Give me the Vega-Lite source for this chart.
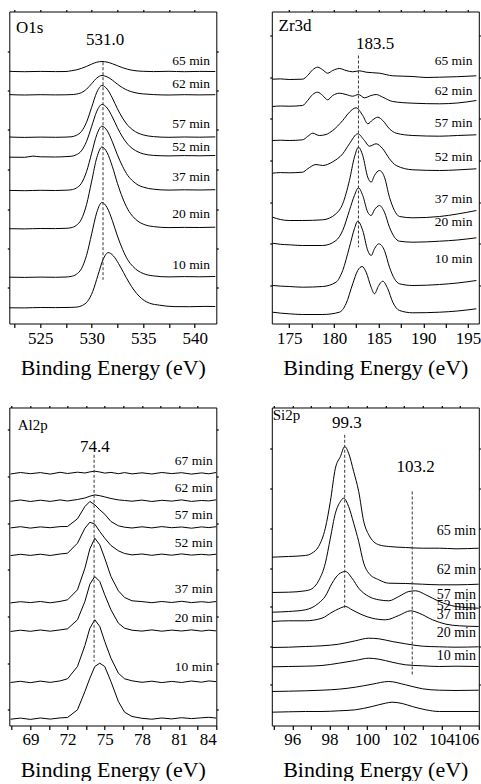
{
"$schema": "https://vega.github.io/schema/vega-lite/v6.json",
"background": "white",
"padding": {"left": 6.3, "top": 8.5, "right": 0, "bottom": 0},
"config": {
  "view": {"stroke": null},
  "font": "Liberation Serif, Times New Roman, serif",
  "axis": {"grid": false, "domainColor": "black", "tickColor": "black", "labelColor": "black", "titleColor": "black",
    "labelFont": "Liberation Serif, Times New Roman, serif", "titleFont": "Liberation Serif, Times New Roman, serif", "labelFontSize": 17, "titleFontSize": 22,
    "titleFontWeight": "normal", "tickSize": 2, "labelPadding": 2.5, "titlePadding": 11.5, "labelOverlap": false,
    "domainWidth": 1, "tickWidth": 1.2},
  "text": {"font": "Liberation Serif, Times New Roman, serif", "color": "black"}
},
"datasets": {
"o": [
{"c":"65","x":522,"y":252.2},{"c":"65","x":523.5,"y":251.8},{"c":"65","x":525,"y":252.1},{"c":"65","x":526.5,"y":251.9},{"c":"65","x":527.5,"y":252.0},{"c":"65","x":528,"y":252.7},{"c":"65","x":528.5,"y":253.6},{"c":"65","x":529,"y":255.1},{"c":"65","x":529.5,"y":257.1},{"c":"65","x":530,"y":259.4},{"c":"65","x":530.5,"y":261.3},{"c":"65","x":531,"y":262.0},{"c":"65","x":531.5,"y":261.4},{"c":"65","x":532,"y":259.8},{"c":"65","x":532.5,"y":257.8},{"c":"65","x":533,"y":255.8},{"c":"65","x":533.5,"y":254.2},{"c":"65","x":534,"y":253.1},{"c":"65","x":534.5,"y":252.5},{"c":"65","x":535,"y":252.2},{"c":"65","x":536,"y":251.9},{"c":"65","x":537.5,"y":252.2},{"c":"65","x":539,"y":251.8},{"c":"65","x":540.5,"y":252.1},{"c":"65","x":542,"y":252.0},
{"c":"62","x":522,"y":228.9},{"c":"62","x":523.5,"y":228.5},{"c":"62","x":525,"y":228.8},{"c":"62","x":526.5,"y":228.6},{"c":"62","x":527.5,"y":228.7},{"c":"62","x":528,"y":228.9},{"c":"62","x":528.5,"y":229.4},{"c":"62","x":529,"y":230.8},{"c":"62","x":529.5,"y":234.3},{"c":"62","x":530,"y":239.9},{"c":"62","x":530.5,"y":245.5},{"c":"62","x":531,"y":248.0},{"c":"62","x":531.5,"y":246.6},{"c":"62","x":532,"y":243.4},{"c":"62","x":532.5,"y":239.3},{"c":"62","x":533,"y":235.8},{"c":"62","x":533.5,"y":233.1},{"c":"62","x":534,"y":231.4},{"c":"62","x":534.5,"y":230.2},{"c":"62","x":535,"y":229.6},{"c":"62","x":536,"y":228.9},{"c":"62","x":537.5,"y":228.5},{"c":"62","x":539,"y":228.8},{"c":"62","x":540.5,"y":228.6},{"c":"62","x":542,"y":228.8},
{"c":"57","x":522,"y":186.5},{"c":"57","x":523.5,"y":186.1},{"c":"57","x":525,"y":186.4},{"c":"57","x":526.5,"y":186.2},{"c":"57","x":527.5,"y":186.4},{"c":"57","x":528,"y":186.7},{"c":"57","x":528.5,"y":188.1},{"c":"57","x":529,"y":192.0},{"c":"57","x":529.5,"y":201.3},{"c":"57","x":530,"y":216.3},{"c":"57","x":530.5,"y":231.3},{"c":"57","x":531,"y":238.0},{"c":"57","x":531.5,"y":234.4},{"c":"57","x":532,"y":225.6},{"c":"57","x":532.5,"y":214.7},{"c":"57","x":533,"y":205.4},{"c":"57","x":533.5,"y":198.2},{"c":"57","x":534,"y":193.5},{"c":"57","x":534.5,"y":190.4},{"c":"57","x":535,"y":188.6},{"c":"57","x":536,"y":186.9},{"c":"57","x":537.5,"y":186.2},{"c":"57","x":539,"y":186.5},{"c":"57","x":540.5,"y":186.3},{"c":"57","x":542,"y":186.6},
{"c":"52","x":522,"y":166.3},{"c":"52","x":523.5,"y":166.2},{"c":"52","x":524.3,"y":167.4},{"c":"52","x":525,"y":166.7},{"c":"52","x":526.5,"y":166.5},{"c":"52","x":527.5,"y":166.9},{"c":"52","x":528,"y":167.2},{"c":"52","x":528.5,"y":168.7},{"c":"52","x":529,"y":172.6},{"c":"52","x":529.5,"y":182.1},{"c":"52","x":530,"y":197.2},{"c":"52","x":530.5,"y":212.3},{"c":"52","x":531,"y":219.1},{"c":"52","x":531.5,"y":215.5},{"c":"52","x":532,"y":206.7},{"c":"52","x":532.5,"y":195.8},{"c":"52","x":533,"y":186.4},{"c":"52","x":533.5,"y":179.3},{"c":"52","x":534,"y":174.6},{"c":"52","x":534.5,"y":171.6},{"c":"52","x":535,"y":169.7},{"c":"52","x":536,"y":168.1},{"c":"52","x":537.5,"y":167.6},{"c":"52","x":539,"y":167.9},{"c":"52","x":540.5,"y":167.7},{"c":"52","x":542,"y":168.0},
{"c":"37","x":522,"y":133.1},{"c":"37","x":523.5,"y":132.8},{"c":"37","x":525,"y":133.2},{"c":"37","x":526.5,"y":133.0},{"c":"37","x":527.5,"y":133.3},{"c":"37","x":528,"y":133.7},{"c":"37","x":528.5,"y":135.4},{"c":"37","x":529,"y":140.2},{"c":"37","x":529.5,"y":151.9},{"c":"37","x":530,"y":170.4},{"c":"37","x":530.5,"y":189.0},{"c":"37","x":531,"y":197.3},{"c":"37","x":531.5,"y":192.8},{"c":"37","x":532,"y":181.9},{"c":"37","x":532.5,"y":168.6},{"c":"37","x":533,"y":157.1},{"c":"37","x":533.5,"y":148.1},{"c":"37","x":534,"y":142.4},{"c":"37","x":534.5,"y":138.5},{"c":"37","x":535,"y":136.4},{"c":"37","x":536,"y":134.3},{"c":"37","x":537.5,"y":133.4},{"c":"37","x":539,"y":133.7},{"c":"37","x":540.5,"y":133.5},{"c":"37","x":542,"y":133.8},
{"c":"20","x":522,"y":94.8},{"c":"20","x":523.5,"y":94.6},{"c":"20","x":525,"y":95.0},{"c":"20","x":526.5,"y":94.9},{"c":"20","x":527.5,"y":95.2},{"c":"20","x":528,"y":95.8},{"c":"20","x":528.5,"y":98.1},{"c":"20","x":529,"y":104.2},{"c":"20","x":529.5,"y":118.9},{"c":"20","x":530,"y":142.4},{"c":"20","x":530.5,"y":166.0},{"c":"20","x":531,"y":176.5},{"c":"20","x":531.5,"y":170.8},{"c":"20","x":532,"y":157.2},{"c":"20","x":532.5,"y":140.2},{"c":"20","x":533,"y":125.6},{"c":"20","x":533.5,"y":114.3},{"c":"20","x":534,"y":107.0},{"c":"20","x":534.5,"y":102.2},{"c":"20","x":535,"y":99.4},{"c":"20","x":536,"y":96.9},{"c":"20","x":537.5,"y":95.9},{"c":"20","x":539,"y":96.1},{"c":"20","x":540.5,"y":96.0},{"c":"20","x":542,"y":96.3},
{"c":"10","x":522,"y":46.3},{"c":"10","x":523.5,"y":46.1},{"c":"10","x":525,"y":46.4},{"c":"10","x":526.5,"y":46.2},{"c":"10","x":527.5,"y":46.5},{"c":"10","x":528,"y":47.1},{"c":"10","x":528.5,"y":49.1},{"c":"10","x":529,"y":54.7},{"c":"10","x":529.5,"y":68.1},{"c":"10","x":530,"y":89.7},{"c":"10","x":530.5,"y":111.3},{"c":"10","x":531,"y":121.0},{"c":"10","x":531.5,"y":115.8},{"c":"10","x":532,"y":103.1},{"c":"10","x":532.5,"y":87.5},{"c":"10","x":533,"y":74.1},{"c":"10","x":533.5,"y":63.7},{"c":"10","x":534,"y":57.1},{"c":"10","x":534.5,"y":52.7},{"c":"10","x":535,"y":50.0},{"c":"10","x":536,"y":47.6},{"c":"10","x":537.5,"y":46.6},{"c":"10","x":539,"y":46.9},{"c":"10","x":540.5,"y":46.7},{"c":"10","x":542,"y":47.0},
{"c":"0","x":522,"y":15.7},{"c":"0","x":523.5,"y":15.6},{"c":"0","x":525,"y":16.0},{"c":"0","x":526.5,"y":15.9},{"c":"0","x":528,"y":16.1},{"c":"0","x":528.6,"y":16.5},{"c":"0","x":529.1,"y":18.1},{"c":"0","x":529.6,"y":22.2},{"c":"0","x":530.1,"y":32.0},{"c":"0","x":530.6,"y":48.0},{"c":"0","x":531.1,"y":63.8},{"c":"0","x":531.6,"y":70.9},{"c":"0","x":532.1,"y":67.7},{"c":"0","x":532.6,"y":60.1},{"c":"0","x":533.1,"y":50.8},{"c":"0","x":533.6,"y":41.5},{"c":"0","x":534.1,"y":33.5},{"c":"0","x":534.6,"y":27.4},{"c":"0","x":535.1,"y":23.0},{"c":"0","x":535.6,"y":20.4},{"c":"0","x":536.6,"y":18.3},{"c":"0","x":538,"y":16.9},{"c":"0","x":539.5,"y":16.8},{"c":"0","x":541,"y":17.1},{"c":"0","x":542,"y":17.0}
],
"oL": [{"t":"65 min","x":541.5,"y":263},{"t":"62 min","x":541.5,"y":239.7},{"t":"57 min","x":541.5,"y":199.7},{"t":"52 min","x":541.5,"y":176.3},{"t":"37 min","x":541.5,"y":147},{"t":"20 min","x":541.5,"y":109.7},{"t":"10 min","x":541.5,"y":58.7}],
"z": [
{"c":"65","x":173.13,"y":244.3},{"c":"65","x":174.0,"y":244.6},{"c":"65","x":175.0,"y":244.0},{"c":"65","x":176.49,"y":244.3},{"c":"65","x":177.06,"y":248.0},{"c":"65","x":177.62,"y":253.7},{"c":"65","x":178.18,"y":256.3},{"c":"65","x":178.74,"y":253.7},{"c":"65","x":179.3,"y":250.3},{"c":"65","x":179.86,"y":253.0},{"c":"65","x":180.61,"y":255.0},{"c":"65","x":181.35,"y":253.0},{"c":"65","x":182.1,"y":251.7},{"c":"65","x":182.85,"y":252.7},{"c":"65","x":183.6,"y":251.3},{"c":"65","x":185.09,"y":250.3},{"c":"65","x":186.58,"y":247.7},{"c":"65","x":188.83,"y":247.0},{"c":"65","x":190.3,"y":246.0},{"c":"65","x":191.82,"y":246.3},{"c":"65","x":193.8,"y":246.8},{"c":"65","x":195.93,"y":247.7},
{"c":"62","x":173.13,"y":217.0},{"c":"62","x":174.0,"y":217.5},{"c":"62","x":175.0,"y":217.3},{"c":"62","x":176.49,"y":218.0},{"c":"62","x":177.06,"y":223.0},{"c":"62","x":177.62,"y":229.0},{"c":"62","x":178.18,"y":231.3},{"c":"62","x":178.74,"y":228.0},{"c":"62","x":179.3,"y":223.7},{"c":"62","x":179.86,"y":228.0},{"c":"62","x":180.61,"y":230.3},{"c":"62","x":181.35,"y":229.0},{"c":"62","x":182.1,"y":227.3},{"c":"62","x":182.74,"y":229.0},{"c":"62","x":183.41,"y":225.7},{"c":"62","x":184.16,"y":228.0},{"c":"62","x":184.72,"y":229.0},{"c":"62","x":185.46,"y":226.3},{"c":"62","x":186.58,"y":222.0},{"c":"62","x":188.83,"y":220.3},{"c":"62","x":191.82,"y":219.7},{"c":"62","x":193.8,"y":220.5},{"c":"62","x":195.93,"y":223.0},
{"c":"57","x":173.13,"y":183.0},{"c":"57","x":174.0,"y":183.3},{"c":"57","x":175.0,"y":183.0},{"c":"57","x":176.49,"y":183.7},{"c":"57","x":177.06,"y":187.0},{"c":"57","x":177.62,"y":190.3},{"c":"57","x":178.36,"y":188.0},{"c":"57","x":179.11,"y":189.0},{"c":"57","x":179.86,"y":193.0},{"c":"57","x":180.98,"y":203.0},{"c":"57","x":181.73,"y":211.3},{"c":"57","x":182.47,"y":215.7},{"c":"57","x":183.22,"y":208.0},{"c":"57","x":183.78,"y":199.7},{"c":"57","x":184.34,"y":203.7},{"c":"57","x":184.9,"y":206.3},{"c":"57","x":185.46,"y":203.0},{"c":"57","x":186.21,"y":194.7},{"c":"57","x":186.96,"y":190.3},{"c":"57","x":188.83,"y":188.0},{"c":"57","x":191.82,"y":187.3},{"c":"57","x":193.8,"y":188.0},{"c":"57","x":195.93,"y":188.7},
{"c":"52","x":173.13,"y":150.3},{"c":"52","x":174.0,"y":150.9},{"c":"52","x":175.0,"y":150.7},{"c":"52","x":176.49,"y":151.3},{"c":"52","x":177.06,"y":154.7},{"c":"52","x":177.99,"y":159.0},{"c":"52","x":178.74,"y":158.0},{"c":"52","x":179.86,"y":161.7},{"c":"52","x":180.98,"y":169.7},{"c":"52","x":181.73,"y":179.7},{"c":"52","x":182.66,"y":189.7},{"c":"52","x":183.41,"y":183.0},{"c":"52","x":183.97,"y":177.3},{"c":"52","x":184.72,"y":179.7},{"c":"52","x":185.46,"y":174.7},{"c":"52","x":186.21,"y":164.7},{"c":"52","x":186.96,"y":158.0},{"c":"52","x":188.83,"y":153.7},{"c":"52","x":191.82,"y":153.0},{"c":"52","x":193.8,"y":153.6},{"c":"52","x":195.93,"y":154.7},
{"c":"37","x":173.13,"y":106.3},{"c":"37","x":174.0,"y":104.0},{"c":"37","x":175.0,"y":103.0},{"c":"37","x":176.49,"y":103.0},{"c":"37","x":178.74,"y":103.7},{"c":"37","x":180.23,"y":109.7},{"c":"37","x":180.98,"y":119.7},{"c":"37","x":181.73,"y":143.0},{"c":"37","x":182.29,"y":166.3},{"c":"37","x":182.74,"y":176.3},{"c":"37","x":183.22,"y":168.0},{"c":"37","x":183.78,"y":146.3},{"c":"37","x":184.16,"y":141.3},{"c":"37","x":184.53,"y":148.0},{"c":"37","x":185.09,"y":153.0},{"c":"37","x":185.65,"y":146.3},{"c":"37","x":186.21,"y":126.3},{"c":"37","x":186.77,"y":113.0},{"c":"37","x":187.33,"y":107.0},{"c":"37","x":188.83,"y":105.7},{"c":"37","x":191.82,"y":107.0},{"c":"37","x":193.8,"y":109.5},{"c":"37","x":195.93,"y":113.0},
{"c":"20","x":173.13,"y":80.3},{"c":"20","x":174.0,"y":79.2},{"c":"20","x":175.0,"y":78.7},{"c":"20","x":176.49,"y":78.0},{"c":"20","x":178.74,"y":78.0},{"c":"20","x":180.23,"y":83.0},{"c":"20","x":180.98,"y":93.0},{"c":"20","x":181.73,"y":113.0},{"c":"20","x":182.29,"y":128.0},{"c":"20","x":182.74,"y":135.7},{"c":"20","x":183.22,"y":128.0},{"c":"20","x":183.78,"y":111.3},{"c":"20","x":184.16,"y":108.0},{"c":"20","x":184.53,"y":113.7},{"c":"20","x":185.09,"y":118.0},{"c":"20","x":185.65,"y":111.3},{"c":"20","x":186.21,"y":96.3},{"c":"20","x":186.77,"y":86.3},{"c":"20","x":187.33,"y":82.3},{"c":"20","x":188.83,"y":81.3},{"c":"20","x":191.82,"y":82.3},{"c":"20","x":193.8,"y":83.5},{"c":"20","x":195.93,"y":85.7},
{"c":"10","x":173.13,"y":38.0},{"c":"10","x":174.0,"y":37.4},{"c":"10","x":175.0,"y":37.0},{"c":"10","x":176.49,"y":36.3},{"c":"10","x":178.74,"y":37.0},{"c":"10","x":180.23,"y":41.3},{"c":"10","x":180.98,"y":53.0},{"c":"10","x":181.73,"y":76.3},{"c":"10","x":182.29,"y":94.7},{"c":"10","x":182.66,"y":102.3},{"c":"10","x":183.22,"y":93.0},{"c":"10","x":183.78,"y":73.0},{"c":"10","x":184.16,"y":68.0},{"c":"10","x":184.53,"y":74.7},{"c":"10","x":185.01,"y":79.7},{"c":"10","x":185.65,"y":73.0},{"c":"10","x":186.21,"y":56.3},{"c":"10","x":186.77,"y":44.7},{"c":"10","x":187.33,"y":39.7},{"c":"10","x":188.83,"y":38.0},{"c":"10","x":191.82,"y":39.0},{"c":"10","x":193.8,"y":40.5},{"c":"10","x":195.93,"y":43.0},
{"c":"0","x":173.13,"y":11.3},{"c":"0","x":174.0,"y":10.4},{"c":"0","x":175.0,"y":9.7},{"c":"0","x":176.49,"y":9.0},{"c":"0","x":178.74,"y":9.0},{"c":"0","x":180.61,"y":11.3},{"c":"0","x":181.35,"y":19.7},{"c":"0","x":182.1,"y":39.7},{"c":"0","x":182.66,"y":53.0},{"c":"0","x":183.15,"y":57.0},{"c":"0","x":183.6,"y":51.3},{"c":"0","x":184.16,"y":36.3},{"c":"0","x":184.53,"y":29.7},{"c":"0","x":185.01,"y":38.0},{"c":"0","x":185.46,"y":42.3},{"c":"0","x":186.02,"y":34.7},{"c":"0","x":186.58,"y":21.3},{"c":"0","x":187.33,"y":13.0},{"c":"0","x":188.83,"y":10.7},{"c":"0","x":191.82,"y":11.3},{"c":"0","x":193.8,"y":12.5},{"c":"0","x":195.93,"y":14.7}
],
"zL": [{"t":"65 min","x":195.5,"y":263},{"t":"62 min","x":195.5,"y":233},{"t":"57 min","x":195.5,"y":200.3},{"t":"52 min","x":195.5,"y":167},{"t":"37 min","x":195.5,"y":124.7},{"t":"20 min","x":195.5,"y":101.3},{"t":"10 min","x":195.5,"y":64.7}],
"a": [
{"c":"67","x":67.4,"y":251.5},{"c":"67","x":68.2,"y":253.0},{"c":"67","x":69,"y":251.8},{"c":"67","x":69.8,"y":252.9},{"c":"67","x":70.6,"y":251.4},{"c":"67","x":71.4,"y":253.2},{"c":"67","x":72.0,"y":252.0},{"c":"67","x":72.8,"y":253.3},{"c":"67","x":73.4,"y":252.5},{"c":"67","x":73.8,"y":253.6},{"c":"67","x":74.2,"y":254.3},{"c":"67","x":74.6,"y":253.5},{"c":"67","x":75.0,"y":252.4},{"c":"67","x":75.5,"y":253.1},{"c":"67","x":76.1,"y":251.8},{"c":"67","x":76.6,"y":252.9},{"c":"67","x":77.2,"y":251.6},{"c":"67","x":78.0,"y":252.7},{"c":"67","x":78.8,"y":251.5},{"c":"67","x":79.6,"y":253.0},{"c":"67","x":80.4,"y":251.9},{"c":"67","x":81.2,"y":252.8},{"c":"67","x":82.0,"y":251.4},{"c":"67","x":82.8,"y":252.6},{"c":"67","x":83.4,"y":251.7},{"c":"67","x":84.0,"y":253.0},
{"c":"62","x":67.4,"y":224.2},{"c":"62","x":68.2,"y":225.5},{"c":"62","x":69,"y":224.0},{"c":"62","x":69.8,"y":225.3},{"c":"62","x":70.6,"y":224.1},{"c":"62","x":71.4,"y":225.6},{"c":"62","x":72.0,"y":224.5},{"c":"62","x":72.8,"y":226.0},{"c":"62","x":73.4,"y":227.5},{"c":"62","x":73.8,"y":229.3},{"c":"62","x":74.2,"y":230.6},{"c":"62","x":74.6,"y":229.8},{"c":"62","x":75.0,"y":228.6},{"c":"62","x":75.5,"y":227.0},{"c":"62","x":76.1,"y":225.6},{"c":"62","x":76.6,"y":225.0},{"c":"62","x":77.2,"y":224.3},{"c":"62","x":78.0,"y":225.4},{"c":"62","x":78.8,"y":224.0},{"c":"62","x":79.6,"y":225.2},{"c":"62","x":80.4,"y":224.4},{"c":"62","x":81.2,"y":225.6},{"c":"62","x":82.0,"y":224.1},{"c":"62","x":82.8,"y":225.0},{"c":"62","x":83.4,"y":224.6},{"c":"62","x":84.0,"y":225.7},
{"c":"57","x":67.4,"y":197.6},{"c":"57","x":68.2,"y":198.8},{"c":"57","x":69,"y":197.4},{"c":"57","x":69.8,"y":198.6},{"c":"57","x":70.6,"y":197.8},{"c":"57","x":71.4,"y":198.9},{"c":"57","x":72.0,"y":199.0},{"c":"57","x":72.8,"y":206.7},{"c":"57","x":73.4,"y":219.0},{"c":"57","x":73.8,"y":224.0},{"c":"57","x":74.2,"y":220.7},{"c":"57","x":74.6,"y":215.7},{"c":"57","x":75.0,"y":211.3},{"c":"57","x":75.5,"y":204.0},{"c":"57","x":76.1,"y":199.7},{"c":"57","x":76.6,"y":198.3},{"c":"57","x":77.2,"y":197.5},{"c":"57","x":78.0,"y":198.7},{"c":"57","x":78.8,"y":197.6},{"c":"57","x":79.6,"y":198.9},{"c":"57","x":80.4,"y":197.8},{"c":"57","x":81.2,"y":198.5},{"c":"57","x":82.0,"y":197.3},{"c":"57","x":82.8,"y":198.6},{"c":"57","x":83.4,"y":197.9},{"c":"57","x":84.0,"y":198.8},
{"c":"52","x":67.4,"y":169.9},{"c":"52","x":68.2,"y":171.2},{"c":"52","x":69,"y":170.1},{"c":"52","x":69.8,"y":171.3},{"c":"52","x":70.6,"y":170.0},{"c":"52","x":71.4,"y":171.5},{"c":"52","x":72.0,"y":172.3},{"c":"52","x":72.8,"y":182.3},{"c":"52","x":73.4,"y":197.3},{"c":"52","x":73.8,"y":203.3},{"c":"52","x":74.2,"y":201.3},{"c":"52","x":74.6,"y":194.0},{"c":"52","x":75.0,"y":187.3},{"c":"52","x":75.5,"y":180.0},{"c":"52","x":76.1,"y":174.7},{"c":"52","x":76.6,"y":172.0},{"c":"52","x":77.2,"y":170.6},{"c":"52","x":78.0,"y":171.5},{"c":"52","x":78.8,"y":170.2},{"c":"52","x":79.6,"y":171.4},{"c":"52","x":80.4,"y":170.3},{"c":"52","x":81.2,"y":171.6},{"c":"52","x":82.0,"y":170.4},{"c":"52","x":82.8,"y":171.2},{"c":"52","x":83.4,"y":170.5},{"c":"52","x":84.0,"y":171.3},
{"c":"37","x":67.4,"y":122.6},{"c":"37","x":68.2,"y":123.8},{"c":"37","x":69,"y":122.9},{"c":"37","x":69.8,"y":124.0},{"c":"37","x":70.6,"y":122.7},{"c":"37","x":71.4,"y":124.1},{"c":"37","x":72.0,"y":125.7},{"c":"37","x":72.8,"y":135.7},{"c":"37","x":73.4,"y":157.3},{"c":"37","x":73.8,"y":176.7},{"c":"37","x":74.2,"y":187.3},{"c":"37","x":74.6,"y":180.7},{"c":"37","x":75.0,"y":167.3},{"c":"37","x":75.5,"y":149.0},{"c":"37","x":76.1,"y":134.7},{"c":"37","x":76.6,"y":128.0},{"c":"37","x":77.2,"y":124.7},{"c":"37","x":78.0,"y":123.9},{"c":"37","x":78.8,"y":122.8},{"c":"37","x":79.6,"y":124.0},{"c":"37","x":80.4,"y":123.0},{"c":"37","x":81.2,"y":124.2},{"c":"37","x":82.0,"y":122.9},{"c":"37","x":82.8,"y":123.8},{"c":"37","x":83.4,"y":123.1},{"c":"37","x":84.0,"y":124.0},
{"c":"20","x":67.4,"y":94.0},{"c":"20","x":68.2,"y":95.3},{"c":"20","x":69,"y":94.2},{"c":"20","x":69.8,"y":95.5},{"c":"20","x":70.6,"y":94.3},{"c":"20","x":71.4,"y":95.6},{"c":"20","x":72.0,"y":96.7},{"c":"20","x":72.8,"y":105.7},{"c":"20","x":73.4,"y":124.0},{"c":"20","x":73.8,"y":141.3},{"c":"20","x":74.2,"y":149.0},{"c":"20","x":74.6,"y":144.0},{"c":"20","x":75.0,"y":130.7},{"c":"20","x":75.5,"y":115.7},{"c":"20","x":76.1,"y":102.3},{"c":"20","x":76.6,"y":97.3},{"c":"20","x":77.2,"y":95.3},{"c":"20","x":78.0,"y":94.4},{"c":"20","x":78.8,"y":95.6},{"c":"20","x":79.6,"y":94.3},{"c":"20","x":80.4,"y":95.4},{"c":"20","x":81.2,"y":94.5},{"c":"20","x":82.0,"y":95.6},{"c":"20","x":82.8,"y":94.4},{"c":"20","x":83.4,"y":95.3},{"c":"20","x":84.0,"y":94.6},
{"c":"10","x":67.4,"y":43.0},{"c":"10","x":68.2,"y":44.2},{"c":"10","x":69,"y":42.8},{"c":"10","x":69.8,"y":44.4},{"c":"10","x":70.6,"y":43.1},{"c":"10","x":71.4,"y":44.6},{"c":"10","x":72.0,"y":46.7},{"c":"10","x":72.8,"y":59.0},{"c":"10","x":73.4,"y":80.0},{"c":"10","x":73.8,"y":97.3},{"c":"10","x":74.2,"y":105.7},{"c":"10","x":74.6,"y":99.0},{"c":"10","x":75.0,"y":84.0},{"c":"10","x":75.5,"y":67.3},{"c":"10","x":76.1,"y":52.3},{"c":"10","x":76.6,"y":46.7},{"c":"10","x":77.2,"y":44.7},{"c":"10","x":78.0,"y":43.2},{"c":"10","x":78.8,"y":44.3},{"c":"10","x":79.6,"y":42.9},{"c":"10","x":80.4,"y":44.1},{"c":"10","x":81.2,"y":43.0},{"c":"10","x":82.0,"y":44.5},{"c":"10","x":82.8,"y":43.3},{"c":"10","x":83.4,"y":44.6},{"c":"10","x":84.0,"y":43.8},
{"c":"0","x":67.4,"y":6.3},{"c":"0","x":68.2,"y":7.4},{"c":"0","x":69,"y":6.1},{"c":"0","x":69.8,"y":7.5},{"c":"0","x":70.6,"y":6.4},{"c":"0","x":71.4,"y":7.6},{"c":"0","x":72.0,"y":8.0},{"c":"0","x":72.8,"y":15.7},{"c":"0","x":73.4,"y":34.0},{"c":"0","x":73.8,"y":47.3},{"c":"0","x":74.2,"y":59.0},{"c":"0","x":74.6,"y":62.3},{"c":"0","x":75.0,"y":59.0},{"c":"0","x":75.5,"y":44.0},{"c":"0","x":76.1,"y":24.0},{"c":"0","x":76.6,"y":13.3},{"c":"0","x":77.2,"y":9.0},{"c":"0","x":78.0,"y":7.2},{"c":"0","x":78.8,"y":6.3},{"c":"0","x":79.6,"y":7.5},{"c":"0","x":80.4,"y":6.6},{"c":"0","x":81.2,"y":7.8},{"c":"0","x":82.0,"y":6.9},{"c":"0","x":82.8,"y":7.7},{"c":"0","x":83.4,"y":8.2},{"c":"0","x":84.0,"y":7.4}
],
"aL": [{"t":"67 min","x":83.71,"y":264.7},{"t":"62 min","x":83.71,"y":237.3},{"t":"57 min","x":83.71,"y":210},{"t":"52 min","x":83.71,"y":182.3},{"t":"37 min","x":83.71,"y":136.7},{"t":"20 min","x":83.71,"y":107.3},{"t":"10 min","x":83.71,"y":58}],
"s": [
{"c":"65","x":94.9,"y":168.3},{"c":"65","x":95.8,"y":169.0},{"c":"65","x":96.7,"y":170.0},{"c":"65","x":97.05,"y":172.3},{"c":"65","x":97.41,"y":179.0},{"c":"65","x":97.77,"y":197.3},{"c":"65","x":98.04,"y":224.0},{"c":"65","x":98.31,"y":257.3},{"c":"65","x":98.58,"y":269.0},{"c":"65","x":98.81,"y":279.0},{"c":"65","x":99.02,"y":272.3},{"c":"65","x":99.29,"y":254.0},{"c":"65","x":99.56,"y":234.0},{"c":"65","x":99.83,"y":204.0},{"c":"65","x":100.1,"y":190.7},{"c":"65","x":100.64,"y":180.7},{"c":"65","x":101.17,"y":179.0},{"c":"65","x":102.07,"y":178.0},{"c":"65","x":102.98,"y":177.3},{"c":"65","x":103.88,"y":177.3},{"c":"65","x":104.78,"y":176.7},{"c":"65","x":106.0,"y":177.3},
{"c":"62","x":94.9,"y":133.0},{"c":"62","x":95.8,"y":133.3},{"c":"62","x":96.7,"y":134.7},{"c":"62","x":97.05,"y":136.7},{"c":"62","x":97.41,"y":144.7},{"c":"62","x":97.77,"y":162.3},{"c":"62","x":98.04,"y":187.3},{"c":"62","x":98.31,"y":212.3},{"c":"62","x":98.58,"y":224.0},{"c":"62","x":98.75,"y":227.3},{"c":"62","x":99.02,"y":219.0},{"c":"62","x":99.29,"y":202.3},{"c":"62","x":99.56,"y":184.0},{"c":"62","x":99.83,"y":162.3},{"c":"62","x":100.1,"y":152.3},{"c":"62","x":100.64,"y":145.7},{"c":"62","x":101.17,"y":142.3},{"c":"62","x":102.07,"y":142.0},{"c":"62","x":102.98,"y":141.3},{"c":"62","x":103.88,"y":140.7},{"c":"62","x":104.78,"y":140.7},{"c":"62","x":106.0,"y":141.3},
{"c":"57","x":94.9,"y":113.3},{"c":"57","x":95.8,"y":114.0},{"c":"57","x":96.7,"y":115.7},{"c":"57","x":97.41,"y":122.3},{"c":"57","x":97.77,"y":129.3},{"c":"57","x":98.13,"y":142.3},{"c":"57","x":98.49,"y":151.3},{"c":"57","x":98.85,"y":154.0},{"c":"57","x":99.2,"y":147.3},{"c":"57","x":99.56,"y":137.3},{"c":"57","x":100.1,"y":129.0},{"c":"57","x":100.64,"y":125.7},{"c":"57","x":101.17,"y":124.7},{"c":"57","x":101.71,"y":129.0},{"c":"57","x":102.25,"y":134.0},{"c":"57","x":102.61,"y":134.7},{"c":"57","x":103.16,"y":130.7},{"c":"57","x":103.88,"y":124.0},{"c":"57","x":104.78,"y":119.0},{"c":"57","x":106.0,"y":117.3},
{"c":"52","x":94.9,"y":104.0},{"c":"52","x":95.8,"y":104.7},{"c":"52","x":96.7,"y":104.7},{"c":"52","x":97.59,"y":107.3},{"c":"52","x":98.13,"y":113.3},{"c":"52","x":98.49,"y":116.7},{"c":"52","x":98.85,"y":119.0},{"c":"52","x":99.2,"y":115.7},{"c":"52","x":99.74,"y":110.7},{"c":"52","x":100.28,"y":107.3},{"c":"52","x":101.0,"y":105.7},{"c":"52","x":101.71,"y":110.0},{"c":"52","x":102.34,"y":114.7},{"c":"52","x":102.8,"y":112.3},{"c":"52","x":103.52,"y":105.7},{"c":"52","x":104.24,"y":101.3},{"c":"52","x":104.96,"y":99.7},{"c":"52","x":106.0,"y":99.0},
{"c":"37","x":94.9,"y":78.0},{"c":"37","x":95.8,"y":78.3},{"c":"37","x":96.7,"y":79.0},{"c":"37","x":97.59,"y":79.7},{"c":"37","x":98.49,"y":81.3},{"c":"37","x":99.38,"y":84.7},{"c":"37","x":100.1,"y":87.3},{"c":"37","x":100.64,"y":86.7},{"c":"37","x":101.35,"y":84.0},{"c":"37","x":102.07,"y":81.7},{"c":"37","x":102.98,"y":79.3},{"c":"37","x":103.88,"y":78.7},{"c":"37","x":104.78,"y":78.3},{"c":"37","x":106.0,"y":78.7},
{"c":"20","x":94.9,"y":58.7},{"c":"20","x":95.8,"y":59.0},{"c":"20","x":96.7,"y":59.3},{"c":"20","x":97.59,"y":60.0},{"c":"20","x":98.49,"y":62.3},{"c":"20","x":99.38,"y":65.0},{"c":"20","x":100.1,"y":67.3},{"c":"20","x":100.64,"y":66.3},{"c":"20","x":101.35,"y":63.3},{"c":"20","x":102.07,"y":60.7},{"c":"20","x":102.98,"y":59.7},{"c":"20","x":103.88,"y":59.0},{"c":"20","x":104.78,"y":59.3},{"c":"20","x":106.0,"y":59.0},
{"c":"10","x":94.9,"y":34.0},{"c":"10","x":95.8,"y":34.3},{"c":"10","x":96.7,"y":34.7},{"c":"10","x":97.59,"y":35.3},{"c":"10","x":98.49,"y":36.3},{"c":"10","x":99.38,"y":38.3},{"c":"10","x":100.28,"y":41.3},{"c":"10","x":101.17,"y":44.0},{"c":"10","x":102.07,"y":40.7},{"c":"10","x":102.98,"y":36.7},{"c":"10","x":103.88,"y":35.3},{"c":"10","x":104.78,"y":35.0},{"c":"10","x":106.0,"y":35.3},
{"c":"0","x":94.9,"y":13.3},{"c":"0","x":95.8,"y":13.7},{"c":"0","x":96.7,"y":14.0},{"c":"0","x":97.59,"y":14.0},{"c":"0","x":98.49,"y":14.7},{"c":"0","x":99.38,"y":15.7},{"c":"0","x":100.28,"y":19.0},{"c":"0","x":101.0,"y":22.3},{"c":"0","x":101.35,"y":23.3},{"c":"0","x":101.89,"y":22.0},{"c":"0","x":102.43,"y":19.0},{"c":"0","x":103.16,"y":15.7},{"c":"0","x":103.88,"y":14.0},{"c":"0","x":104.78,"y":14.0},{"c":"0","x":106.0,"y":14.0}
],
"sL": [{"t":"65 min","x":105.85,"y":194},{"t":"62 min","x":105.85,"y":155.7},{"t":"57 min","x":105.85,"y":130.7},{"t":"52 min","x":105.85,"y":119.7},{"t":"37 min","x":105.85,"y":110.7},{"t":"20 min","x":105.85,"y":92.3},{"t":"10 min","x":105.85,"y":69.7}]
},
"spacing": 26,
"vconcat": [
{"spacing": 49.5, "hconcat": [
 {"width": 207, "height": 312,
  "resolve": {"axis": {"x": "independent", "y": "independent"}},
  "layer": [
   {"data": {"name": "o"}, "mark": {"type": "line", "interpolate": "monotone", "clip": true, "color": "black", "strokeWidth": 1},
    "encoding": {
     "x": {"field": "x", "type": "quantitative", "scale": {"domain": [522, 542.1], "nice": false, "zero": false},
       "axis": {"orient": "bottom", "tickSize": 4, "title": "Binding Energy (eV)", "values": [522.5,525,527.5,530,532.5,535,537.5,540], "labelExpr": "datum.value % 5 === 0 ? datum.label : ''"}},
     "y": {"field": "y", "type": "quantitative", "scale": {"domain": [0, 312], "nice": false, "zero": false},
       "axis": {"orient": "left", "labels": false, "title": null, "values": [36,75,114.5,154.5,194.5,233,272]}},
     "detail": {"field": "c"}}},
   {"data": {"name": "oL"}, "mark": {"type": "text", "align": "right", "baseline": "middle", "fontSize": 13.5},
    "encoding": {
     "x": {"field": "x", "type": "quantitative", "axis": {"orient": "top", "labels": false, "title": null, "values": [522.5,525,527.5,530,532.5,535,537.5,540]}},
     "y": {"field": "y", "type": "quantitative", "axis": {"orient": "right", "labels": false, "title": null, "values": [36,75,114.5,154.5,194.5,233,272]}},
     "text": {"field": "t"}}},
   {"data": {"values": [{"x": 531.1, "y": 261.3, "y2": 43.7}]}, "mark": {"type": "rule", "strokeDash": [3, 2], "color": "#333"},
    "encoding": {"x": {"field": "x", "type": "quantitative", "axis": null}, "y": {"field": "y", "type": "quantitative", "axis": null}, "y2": {"field": "y2"}}},
   {"data": {"values": [{"x": 531.3, "y": 283.7, "t": "531.0"}]}, "mark": {"type": "text", "fontSize": 17, "baseline": "middle"},
    "encoding": {"x": {"field": "x", "type": "quantitative", "axis": null}, "y": {"field": "y", "type": "quantitative", "axis": null}, "text": {"field": "t"}}},
   {"data": {"values": [{"x": 522.65, "y": 296, "t": "O1s"}]}, "mark": {"type": "text", "fontSize": 17, "align": "left", "baseline": "middle"},
    "encoding": {"x": {"field": "x", "type": "quantitative", "axis": null}, "y": {"field": "y", "type": "quantitative", "axis": null}, "text": {"field": "t"}}}
  ]},
 {"width": 207, "height": 312,
  "resolve": {"axis": {"x": "independent", "y": "independent"}},
  "layer": [
   {"data": {"name": "z"}, "mark": {"type": "line", "interpolate": "monotone", "clip": true, "color": "black", "strokeWidth": 1},
    "encoding": {
     "x": {"field": "x", "type": "quantitative", "scale": {"domain": [173.05, 196.2], "nice": false, "zero": false},
       "axis": {"orient": "bottom", "tickSize": 4, "title": "Binding Energy (eV)", "values": [175,177.5,180,182.5,185,187.5,190,192.5,195], "labelExpr": "datum.value % 5 === 0 ? datum.label : ''"}},
     "y": {"field": "y", "type": "quantitative", "scale": {"domain": [0, 312], "nice": false, "zero": false},
       "axis": {"orient": "left", "labels": false, "title": null, "values": [38,79.7,121.3,163,204.7,246.3,288]}},
     "detail": {"field": "c"}}},
   {"data": {"name": "zL"}, "mark": {"type": "text", "align": "right", "baseline": "middle", "fontSize": 13.5},
    "encoding": {
     "x": {"field": "x", "type": "quantitative", "axis": {"orient": "top", "labels": false, "title": null, "values": [175,177.5,180,182.5,185,187.5,190,192.5,195]}},
     "y": {"field": "y", "type": "quantitative", "axis": {"orient": "right", "labels": false, "title": null, "values": [38,79.7,121.3,163,204.7,246.3,288]}},
     "text": {"field": "t"}}},
   {"data": {"values": [{"x": 182.74, "y": 268, "y2": 76.3}]}, "mark": {"type": "rule", "strokeDash": [3, 2], "color": "#333"},
    "encoding": {"x": {"field": "x", "type": "quantitative", "axis": null}, "y": {"field": "y", "type": "quantitative", "axis": null}, "y2": {"field": "y2"}}},
   {"data": {"values": [{"x": 184.6, "y": 279.7, "t": "183.5"}]}, "mark": {"type": "text", "fontSize": 17, "baseline": "middle"},
    "encoding": {"x": {"field": "x", "type": "quantitative", "axis": null}, "y": {"field": "y", "type": "quantitative", "axis": null}, "text": {"field": "t"}}},
   {"data": {"values": [{"x": 173.8, "y": 298, "t": "Zr3d"}]}, "mark": {"type": "text", "fontSize": 17, "align": "left", "baseline": "middle"},
    "encoding": {"x": {"field": "x", "type": "quantitative", "axis": null}, "y": {"field": "y", "type": "quantitative", "axis": null}, "text": {"field": "t"}}}
  ]}
]},
{"spacing": 49.5, "hconcat": [
 {"width": 207, "height": 318,
  "resolve": {"axis": {"x": "independent", "y": "independent"}},
  "layer": [
   {"data": {"name": "a"}, "mark": {"type": "line", "interpolate": "linear", "clip": true, "color": "black", "strokeWidth": 1},
    "encoding": {
     "x": {"field": "x", "type": "quantitative", "scale": {"domain": [67.3, 84], "nice": false, "zero": false},
       "axis": {"orient": "bottom", "tickSize": 4, "title": "Binding Energy (eV)", "values": [67.5,69,70.5,72,73.5,75,76.5,78,79.5,81,82.5,84], "labelExpr": "datum.value % 3 === 0 ? datum.label : ''"}},
     "y": {"field": "y", "type": "quantitative", "scale": {"domain": [0, 318], "nice": false, "zero": false},
       "axis": {"orient": "left", "labels": false, "title": null, "values": [15.7,62.3,109,155.7,202.3,249,295.7]}},
     "detail": {"field": "c"}}},
   {"data": {"name": "aL"}, "mark": {"type": "text", "align": "right", "baseline": "middle", "fontSize": 13.5},
    "encoding": {
     "x": {"field": "x", "type": "quantitative", "axis": {"orient": "top", "labels": false, "title": null, "values": [67.5,69,70.5,72,73.5,75,76.5,78,79.5,81,82.5]}},
     "y": {"field": "y", "type": "quantitative", "axis": {"orient": "right", "labels": false, "title": null, "values": [15.7,62.3,109,155.7,202.3,249,295.7]}},
     "text": {"field": "t"}}},
   {"data": {"values": [{"x": 74.14, "y": 270.7, "y2": 64}]}, "mark": {"type": "rule", "strokeDash": [3, 2], "color": "#333"},
    "encoding": {"x": {"field": "x", "type": "quantitative", "axis": null}, "y": {"field": "y", "type": "quantitative", "axis": null}, "y2": {"field": "y2"}}},
   {"data": {"values": [{"x": 74.2, "y": 278, "t": "74.4"}]}, "mark": {"type": "text", "fontSize": 17, "baseline": "middle"},
    "encoding": {"x": {"field": "x", "type": "quantitative", "axis": null}, "y": {"field": "y", "type": "quantitative", "axis": null}, "text": {"field": "t"}}},
   {"data": {"values": [{"x": 67.98, "y": 300.7, "t": "Al2p"}]}, "mark": {"type": "text", "fontSize": 15, "align": "left", "baseline": "middle"},
    "encoding": {"x": {"field": "x", "type": "quantitative", "axis": null}, "y": {"field": "y", "type": "quantitative", "axis": null}, "text": {"field": "t"}}}
  ]},
 {"width": 207, "height": 318,
  "resolve": {"axis": {"x": "independent", "y": "independent"}},
  "layer": [
   {"data": {"name": "s"}, "mark": {"type": "line", "interpolate": "monotone", "clip": true, "color": "black", "strokeWidth": 1},
    "encoding": {
     "x": {"field": "x", "type": "quantitative", "scale": {"domain": [94.9, 106], "nice": false, "zero": false},
       "axis": {"orient": "bottom", "tickSize": 4, "title": "Binding Energy (eV)", "values": [95,96,97,98,99,100,101,102,103,104,105,106], "labelExpr": "datum.value % 2 === 0 ? datum.label : ''"}},
     "y": {"field": "y", "type": "quantitative", "scale": {"domain": [0, 318], "nice": false, "zero": false},
       "axis": {"orient": "left", "labels": false, "title": null, "values": [40.7,79,119,157.3,197.3,237.3,277.3]}},
     "detail": {"field": "c"}}},
   {"data": {"name": "sL"}, "mark": {"type": "text", "align": "right", "baseline": "middle", "fontSize": 14},
    "encoding": {
     "x": {"field": "x", "type": "quantitative", "axis": {"orient": "top", "labels": false, "title": null, "values": [95,96,97,98,99,100,101,102,103,104,105]}},
     "y": {"field": "y", "type": "quantitative", "axis": {"orient": "right", "labels": false, "title": null, "values": [40.7,79,119,157.3,197.3,237.3,277.3]}},
     "text": {"field": "t"}}},
   {"data": {"values": [{"x": 98.81, "y": 290.7, "y2": 115.7}, {"x": 102.43, "y": 234, "y2": 50.7}]}, "mark": {"type": "rule", "strokeDash": [3, 2], "color": "#333"},
    "encoding": {"x": {"field": "x", "type": "quantitative", "axis": null}, "y": {"field": "y", "type": "quantitative", "axis": null}, "y2": {"field": "y2"}}},
   {"data": {"values": [{"x": 98.93, "y": 302.3, "t": "99.3"}, {"x": 102.61, "y": 258, "t": "103.2"}]}, "mark": {"type": "text", "fontSize": 17, "baseline": "middle"},
    "encoding": {"x": {"field": "x", "type": "quantitative", "axis": null}, "y": {"field": "y", "type": "quantitative", "axis": null}, "text": {"field": "t"}}},
   {"data": {"values": [{"x": 94.95, "y": 310.7, "t": "Si2p"}]}, "mark": {"type": "text", "fontSize": 15, "align": "left", "baseline": "middle"},
    "encoding": {"x": {"field": "x", "type": "quantitative", "axis": null}, "y": {"field": "y", "type": "quantitative", "axis": null}, "text": {"field": "t"}}}
  ]}
]}
]
}
